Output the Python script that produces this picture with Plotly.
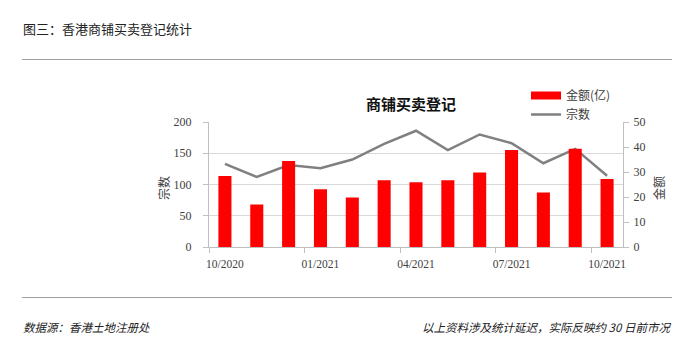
import plotly.graph_objects as go

months = ["10/2020", "11/2020", "12/2020", "01/2021", "02/2021", "03/2021", "04/2021",
          "05/2021", "06/2021", "07/2021", "08/2021", "09/2021", "10/2021"]
amount_yi = [28.4, 17.0, 34.4, 23.1, 19.8, 26.7, 25.9, 26.7, 29.8, 38.8, 21.8, 39.3, 27.2]
cases = [133, 112, 131, 126, 140, 165, 186, 155, 180, 166, 134, 157, 114]
label_step = 3

W, H = 685, 359
L, R, T, B = 209, 62, 122, 112
pw, ph = W - L - R, H - T - B


def px(x):
    return (x - L) / pw


def py(y):
    return (H - B - y) / ph


CJK = "Noto Sans CJK SC"
NUM = "Liberation Serif, Noto Sans CJK SC"
TXT = "#404040"
AX = "#BFBFBF"
NONE = "rgba(0,0,0,0)"

xi = list(range(len(months)))
tick_idx = xi[::label_step]
bound_idx = [i - 0.5 for i in tick_idx]

fig = go.Figure()
fig.add_trace(go.Bar(x=xi, y=amount_yi, name="金额(亿)", marker=dict(color="#FF0000", line=dict(width=0)),
                     yaxis="y2", showlegend=False, customdata=months,
                     hovertemplate="%{customdata}: %{y}<extra></extra>"))
fig.add_trace(go.Scatter(x=[None], y=[None], mode="lines", name="金额(亿)",
                         line=dict(color="#FF0000", width=8), yaxis="y2"))
fig.add_trace(go.Scatter(x=xi, y=cases, mode="lines", name="宗数",
                         line=dict(color="#808080", width=2.5), customdata=months,
                         hovertemplate="%{customdata}: %{y}<extra></extra>"))

fig.update_layout(
    template="none",
    width=W, height=H,
    margin=dict(l=L, r=R, t=T, b=B),
    paper_bgcolor="white", plot_bgcolor="white",
    bargap=0.59,
    font=dict(family=NUM, size=11, color=TXT),
    xaxis=dict(range=[-0.5, len(months) - 0.5], tickmode="array", tickvals=tick_idx,
               ticktext=[months[i] for i in tick_idx], tickangle=0, ticks="",
               showgrid=False, zeroline=False, showline=True, linecolor=AX,
               linewidth=1, tickfont=dict(size=11.5, color=TXT), ticklabelstandoff=6,
               minor=dict(tickmode="array", tickvals=bound_idx, ticks="outside", ticklen=5,
                          tickcolor=AX, showgrid=False)),
    yaxis=dict(range=[0, 200], dtick=50, showgrid=True, gridcolor="#D9D9D9", gridwidth=1,
               showline=True, linecolor=AX, linewidth=1, ticks="outside", ticklen=5,
               tickcolor=AX, tickfont=dict(size=12, color=TXT), ticklabelstandoff=9,
               zeroline=False, minor=dict(showgrid=False)),
    yaxis2=dict(range=[0, 50], dtick=10, overlaying="y", side="right", showgrid=False,
                showline=True, linecolor=AX, linewidth=1, ticks="outside", ticklen=5,
                tickcolor=AX, tickfont=dict(size=12, color=TXT), ticklabelstandoff=2,
                zeroline=False, minor=dict(showgrid=False)),
    legend=dict(x=px(526), y=py(81), xanchor="left", yanchor="top",
                font=dict(family=CJK, size=12, color=TXT), bgcolor=NONE,
                tracegroupgap=0, itemwidth=30),
    showlegend=True,
)

annos = [
    dict(text="图三：香港商铺买卖登记统计", x=px(21), y=py(28), xanchor="left", yanchor="middle",
         font=dict(family=CJK, size=13, color="#222222")),
    dict(text="<b>商铺买卖登记</b>", x=px(411), y=py(103), xanchor="center", yanchor="middle",
         font=dict(family=CJK, size=15, color="#111111")),
    dict(text="宗数", x=px(163), y=py(188), xanchor="center", yanchor="middle", textangle=-90,
         font=dict(family=CJK, size=12, color=TXT)),
    dict(text="金额", x=px(658), y=py(188), xanchor="center", yanchor="middle", textangle=-90,
         font=dict(family=CJK, size=12, color=TXT)),
    dict(text="数据源：香港土地注册处", x=px(21), y=py(327), xanchor="left", yanchor="middle",
         font=dict(family=CJK, size=11.5, color="#222222", style="italic")),
    dict(text="以上资料涉及统计延迟，实际反映约 30 日前市况", x=px(673), y=py(327), xanchor="right",
         yanchor="middle", font=dict(family=CJK, size=11.5, color="#222222", style="italic")),
]
for a in annos:
    fig.add_annotation(xref="paper", yref="paper", showarrow=False, **a)

for yy in (59.5, 297.5):
    fig.add_shape(type="line", xref="paper", yref="paper", x0=px(22), x1=px(672),
                  y0=py(yy), y1=py(yy), line=dict(color="#A0A0A0", width=1.2))

fig.write_html("out.html", config={"displayModeBar": False},
               post_script="document.body.style.margin='0';")
